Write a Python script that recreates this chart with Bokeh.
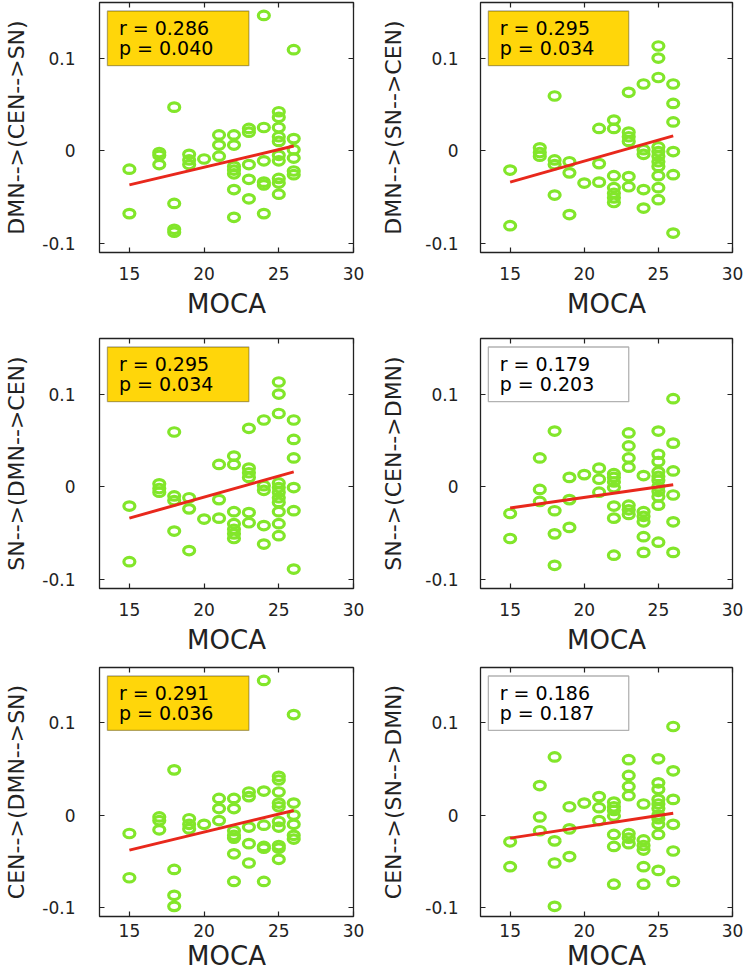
from bokeh.plotting import figure
from bokeh.layouts import column, row
from bokeh.models import FixedTicker, LinearAxis, BoxAnnotation, CustomLabelingPolicy
from bokeh.embed import file_html
from bokeh.resources import INLINE
from bokeh.core.properties import value

# ---------------- data ----------------
x_ticks = [15, 20, 25, 30]
y_ticks = [-0.1, 0, 0.1]
y_tick_labels = ["-0.1", "0", "0.1"]
x_label = "MOCA"

# panel 1: DMN-->(CEN-->SN)
moca_1 = [15, 15, 17, 17, 17, 18, 18, 18, 18, 19, 19, 19, 20, 21, 21, 21,
          22, 22, 22, 22, 22, 22, 22, 23, 23, 23, 23, 23, 24, 24, 24, 24, 24, 24,
          25, 25, 25, 25, 25, 25, 25, 25, 25, 25, 26, 26, 26, 26, 26, 26]
conn_1 = [-0.020, -0.068, -0.002, -0.005, -0.015, 0.047, -0.057, -0.085, -0.088,
          -0.004, -0.010, -0.015, -0.009, 0.017, 0.006, -0.006,
          0.017, 0.006, -0.017, -0.021, -0.025, -0.042, -0.072,
          0.024, 0.020, -0.015, -0.031, -0.052,
          0.146, 0.025, -0.011, -0.034, -0.037, -0.068,
          0.042, 0.036, 0.025, 0.015, 0.010, -0.005, -0.011, -0.030, -0.035, -0.047,
          0.109, 0.013, 0.001, -0.008, -0.022, -0.026]

# panel 2: DMN-->(SN-->CEN)  and panel 3: SN-->(DMN-->CEN)
moca_2 = [15, 15, 17, 17, 17, 18, 18, 18, 18, 19, 19, 19, 20, 21, 21, 21,
          22, 22, 22, 22, 22, 22, 22, 23, 23, 23, 23, 23, 23, 24, 24, 24, 24, 24,
          25, 25, 25, 25, 25, 25, 25, 25, 25, 25, 25, 26, 26, 26, 26, 26, 26]
conn_2 = [-0.021, -0.081, 0.003, -0.002, -0.006, 0.059, -0.010, -0.015, -0.048,
          -0.012, -0.024, -0.069, -0.035, 0.024, -0.014, -0.034,
          0.033, 0.024, -0.027, -0.040, -0.046, -0.051, -0.056,
          0.063, 0.020, 0.015, 0.010, -0.028, -0.039,
          0.072, 0.001, -0.004, -0.042, -0.062,
          0.113, 0.100, 0.079, 0.004, -0.001, -0.006, -0.012, -0.017, -0.027, -0.040, -0.053,
          0.072, 0.051, 0.031, -0.001, -0.026, -0.089]
moca_3 = list(moca_2)
conn_3 = list(conn_2)

# panel 4: SN-->(CEN-->DMN)
moca_4 = [15, 15, 17, 17, 17, 18, 18, 18, 18, 19, 19, 19, 20, 21, 21, 21,
          22, 22, 22, 22, 22, 22, 22, 23, 23, 23, 23, 23, 23, 23, 24, 24, 24, 24, 24, 24,
          25, 25, 25, 25, 25, 25, 25, 25, 25, 25, 25, 26, 26, 26, 26, 26, 26]
conn_4 = [-0.029, -0.056, 0.031, -0.003, -0.016, 0.060, -0.026, -0.051, -0.085,
          0.010, -0.014, -0.044, 0.013, 0.020, 0.008, -0.006,
          0.014, 0.010, 0.005, -0.001, -0.021, -0.034, -0.074,
          0.058, 0.044, 0.031, 0.021, -0.020, -0.025, -0.030,
          0.012, -0.027, -0.032, -0.038, -0.054, -0.071,
          0.060, 0.035, 0.027, 0.016, 0.011, 0.007, 0.000, -0.005, -0.011, -0.020, -0.060,
          0.095, 0.047, 0.017, -0.009, -0.038, -0.071]

# panel 5: CEN-->(DMN-->SN)
moca_5 = list(moca_1)
conn_5 = [-0.020, -0.068, -0.002, -0.006, -0.016, 0.049, -0.059, -0.087, -0.099,
          -0.004, -0.010, -0.015, -0.010, 0.018, 0.007, -0.006,
          0.018, 0.007, -0.017, -0.022, -0.025, -0.042, -0.072,
          0.025, 0.020, -0.013, -0.031, -0.052,
          0.146, 0.026, -0.011, -0.034, -0.036, -0.072,
          0.042, 0.038, 0.025, 0.013, 0.009, -0.007, -0.013, -0.033, -0.036, -0.048,
          0.109, 0.013, 0.000, -0.010, -0.022, -0.026]

# panel 6: CEN-->(SN-->DMN)
moca_6 = list(moca_4)
conn_6 = [-0.029, -0.056, 0.032, -0.002, -0.017, 0.063, -0.028, -0.052, -0.099,
          0.009, -0.015, -0.045, 0.013, 0.020, 0.008, -0.006,
          0.014, 0.009, 0.005, -0.001, -0.021, -0.034, -0.075,
          0.060, 0.043, 0.031, 0.021, -0.020, -0.025, -0.031,
          0.012, -0.027, -0.033, -0.038, -0.056, -0.075,
          0.061, 0.035, 0.028, 0.017, 0.012, 0.007, 0.000, -0.004, -0.010, -0.021, -0.060,
          0.096, 0.048, 0.017, -0.010, -0.039, -0.072]

fit_x = [15, 26]
fit_y_1 = [-0.037, 0.005]
fit_y_2 = [-0.034, 0.016]
fit_y_3 = [-0.034, 0.016]
fit_y_4 = [-0.023, 0.002]
fit_y_5 = [-0.038, 0.005]
fit_y_6 = [-0.025, 0.002]

y_labels = ["DMN-->(CEN-->SN)", "DMN-->(SN-->CEN)", "SN-->(DMN-->CEN)",
            "SN-->(CEN-->DMN)", "CEN-->(DMN-->SN)", "CEN-->(SN-->DMN)"]
r_vals = [0.286, 0.295, 0.295, 0.179, 0.291, 0.186]
p_vals = [0.040, 0.034, 0.034, 0.203, 0.036, 0.187]
significant = [True, True, True, False, True, False]

# ---------------- style ----------------
GREEN = "#82e62a"
RED = "#e8281c"
YELLOW = "#ffd60a"
INK = "#222222"
FONT = "DejaVu Sans"


def make_panel(xs, ys, fy, ylab, r, pv, sig, col_cfg, row_cfg):
    left_b, right_b, frame_w, tick_so, lab_so = col_cfg
    top_b, frame_h, bottom_b, xtick_so, xlab_so = row_cfg
    p = figure(frame_width=frame_w, frame_height=frame_h,
               min_border_left=left_b, min_border_right=right_b,
               min_border_top=top_b, min_border_bottom=bottom_b,
               x_range=(13, 30), y_range=(-0.11, 0.16),
               output_backend="svg", toolbar_location=None, tools="")
    p.grid.visible = False
    p.outline_line_color = INK
    p.outline_line_width = 1.3
    p.background_fill_color = "white"
    p.border_fill_color = "white"

    overrides = {t: s for t, s in zip(y_ticks, y_tick_labels)}

    xa = p.xaxis[0]
    xa.ticker = FixedTicker(ticks=x_ticks)
    xa.axis_label = x_label
    ya = p.yaxis[0]
    ya.ticker = FixedTicker(ticks=y_ticks)
    ya.major_label_overrides = overrides
    ya.axis_label = ylab

    for ax in (xa, ya):
        ax.major_tick_in = 5
        ax.major_tick_out = 0
        ax.major_tick_line_color = INK
        ax.major_tick_line_width = 1.2
        ax.minor_tick_line_color = None
        ax.axis_line_color = None
        ax.major_label_text_font = FONT
        ax.major_label_text_font_size = "17px"
        ax.major_label_text_color = INK
        ax.axis_label_text_font = FONT
        ax.axis_label_text_font_style = "normal"
        ax.axis_label_text_color = INK
    xa.major_label_standoff = xtick_so
    xa.axis_label_standoff = xlab_so
    xa.axis_label_text_font_size = "26px"
    ya.major_label_standoff = tick_so
    ya.axis_label_standoff = lab_so
    ya.axis_label_text_font_size = "22px"

    # tick marks only (no labels) on the top and right edges of the box
    top = LinearAxis(ticker=FixedTicker(ticks=x_ticks))
    right = LinearAxis(ticker=FixedTicker(ticks=y_ticks))
    for ax in (top, right):
        ax.major_tick_in = 5
        ax.major_tick_out = 0
        ax.major_tick_line_color = INK
        ax.major_tick_line_width = 1.2
        ax.minor_tick_line_color = None
        ax.axis_line_color = None
        ax.major_label_text_font_size = "0px"
        ax.major_label_standoff = 0
        ax.major_label_policy = CustomLabelingPolicy(code="return []")
    p.add_layout(top, "above")
    p.add_layout(right, "right")

    p.ellipse(x=xs, y=ys, width=11, height=8.5, width_units="screen", height_units="screen",
              fill_color=None, line_color=GREEN, line_width=3.2)
    p.line(fit_x, fy, line_color=RED, line_width=3)

    box = BoxAnnotation(left=13.53, right=23.0, top=0.1508, bottom=0.0918,
                        fill_color=YELLOW if sig else "white", fill_alpha=1,
                        line_color="black", line_width=1.3, level="underlay")
    p.add_layout(box)
    p.text(x=[14.3, 14.3], y=[0.1326, 0.1108],
           text=[f"r = {r:.3f}", f"p = {pv:.3f}"],
           text_font=value(FONT), text_font_size=value("19px"),
           text_baseline="middle", text_align="left", text_color="black")
    return p


xs_all = [moca_1, moca_2, moca_3, moca_4, moca_5, moca_6]
ys_all = [conn_1, conn_2, conn_3, conn_4, conn_5, conn_6]
fits = [fit_y_1, fit_y_2, fit_y_3, fit_y_4, fit_y_5, fit_y_6]

# (min_border_left, min_border_right, frame_width, y tick standoff, y label standoff)
col_cfgs = [(99, 22, 254, 24, 10), (105, 15, 252, 22, 16)]
# (min_border_top, frame_height, min_border_bottom, x tick standoff, x label standoff)
row_cfgs = [(2, 250, 84, 14, 6), (2, 250, 77, 14, 6), (2, 249, 63, 7, 1)]

rows = []
for i in range(3):
    figs = []
    for j in range(2):
        k = 2 * i + j
        figs.append(make_panel(xs_all[k], ys_all[k], fits[k], y_labels[k],
                               r_vals[k], p_vals[k], significant[k],
                               col_cfgs[j], row_cfgs[i]))
    rows.append(row(*figs))

layout = column(*rows)
open("out.html", "w").write(file_html(layout, INLINE))
